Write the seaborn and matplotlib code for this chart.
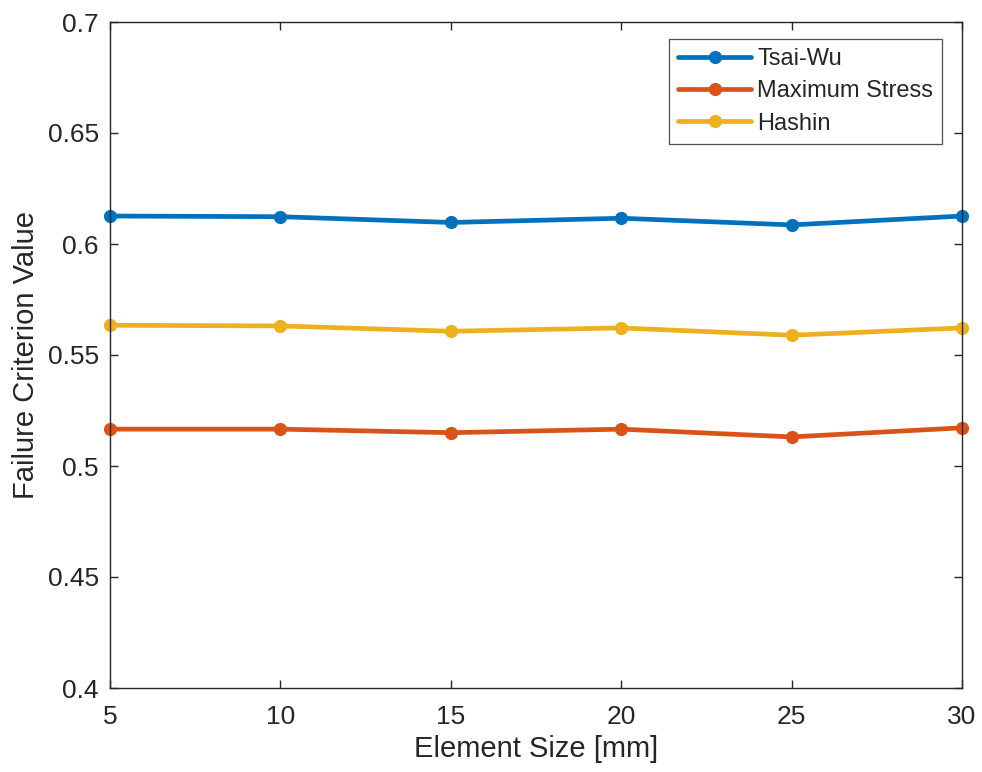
import matplotlib
matplotlib.use("Agg")
import matplotlib.pyplot as plt
import seaborn as sns
import pandas as pd

# Element sizes [mm] and failure criterion values per criterion
element_size = [5, 10, 15, 20, 25, 30]
tsai_wu = [0.6126, 0.6123, 0.6097, 0.6116, 0.6086, 0.6126]
max_stress = [0.5166, 0.5166, 0.5150, 0.5166, 0.5131, 0.5172]
hashin = [0.5634, 0.5631, 0.5607, 0.5622, 0.5589, 0.5622]

series_names = ["Tsai-Wu", "Maximum Stress", "Hashin"]
colors = ["#0072BD", "#D95319", "#EDB120"]
y_ticks = [0.4, 0.45, 0.5, 0.55, 0.6, 0.65, 0.7]
y_tick_labels = ["0.4", "0.45", "0.5", "0.55", "0.6", "0.65", "0.7"]

df = pd.DataFrame({
    "Element Size [mm]": element_size * 3,
    "Failure Criterion Value": tsai_wu + max_stress + hashin,
    "Criterion": [n for n in series_names for _ in element_size],
})

sns.set_theme(style="white")
plt.rcParams["font.family"] = ["Liberation Sans", "DejaVu Sans"]

text_color = "#262626"

fig = plt.figure(figsize=(9.82, 7.72), dpi=100)
ax = fig.add_axes([110 / 982, 1 - 688 / 772, 852 / 982, 666 / 772])

sns.lineplot(
    data=df, x="Element Size [mm]", y="Failure Criterion Value",
    hue="Criterion", hue_order=series_names, palette=colors,
    marker="o", markersize=9.5, markeredgewidth=0, linewidth=3.4,
    ax=ax, legend=True, clip_on=False,
)

ax.set_xlim(5, 30)
ax.set_ylim(0.4, 0.7)
ax.set_xticks(element_size)
ax.set_yticks(y_ticks)
ax.set_yticklabels(y_tick_labels)

for s in ax.spines.values():
    s.set_color(text_color)
    s.set_linewidth(1.0)
    s.set_visible(True)

ax.tick_params(direction="in", length=6, width=1, color=text_color,
               labelsize=19, labelcolor=text_color,
               top=True, right=True, bottom=True, left=True)
ax.tick_params(axis="x", pad=12)
ax.tick_params(axis="y", pad=8)

ax.set_xlabel("Element Size [mm]", fontsize=21, color=text_color)
ax.set_ylabel("Failure Criterion Value", fontsize=21, color=text_color)
ax.xaxis.set_label_coords(0.5, -(749 - 688) / 666)
ax.yaxis.set_label_coords(-(110 - 26) / 852, 0.5)
ax.xaxis.label.set_va("center")
ax.yaxis.label.set_va("center")

leg = ax.legend(loc="upper right", bbox_to_anchor=(1 - 20 / 852, 1 - 17 / 666),
                fontsize=17, frameon=True, fancybox=False,
                edgecolor=text_color, handlelength=3.1, handletextpad=0.25,
                borderpad=0.38, labelspacing=0.44, borderaxespad=0, title=None)
leg.get_frame().set_linewidth(0.9)
for t in leg.get_texts():
    t.set_color(text_color)

fig.savefig("out.png", dpi=100, facecolor="white")
